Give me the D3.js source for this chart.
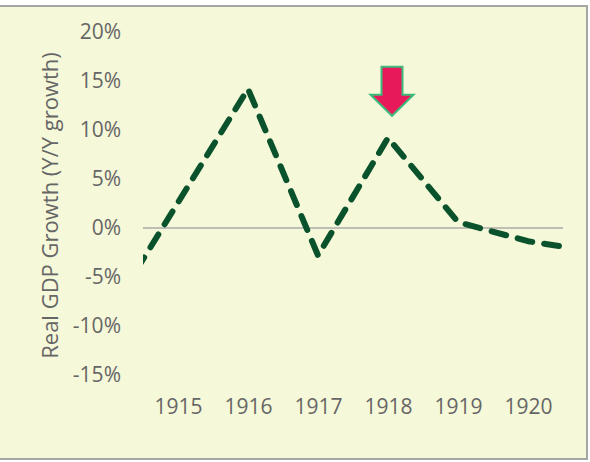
<!DOCTYPE html>
<html>
<head>
<meta charset="utf-8">
<script src="https://cdn.jsdelivr.net/npm/d3@7"></script>
<style>
  body { margin: 0; background: #fff; }
  svg { display: block; }
  .axis text { font-family: "Open Sans", sans-serif; font-size: 21px; fill: #666; }
</style>
</head>
<body>
<svg id="chart" width="590" height="462"></svg>
<script>
// years incl. one on each side, the line runs off the plot edges
const years = [1914, 1915, 1916, 1917, 1918, 1919, 1920, 1921];
const growth = [-9.0, 2.6, 14.2, -2.8, 9.2, 0.6, -1.35, -2.45];
const xTicks = [1915, 1916, 1917, 1918, 1919, 1920];
const yTicks = [-15, -10, -5, 0, 5, 10, 15, 20];
const arrowYear = 1918;

const W = 590, H = 462;
const plot = { left: 143, right: 563, top: 32, bottom: 375 };

const svg = d3.select("#chart");

svg.append("rect")
  .attr("x", -2).attr("y", 6)
  .attr("width", 589).attr("height", 453)
  .attr("fill", "#f5f8d9")
  .attr("stroke", "#a6a6a6")
  .attr("stroke-width", 2);

const x = d3.scaleLinear()
  .domain([1914.5, 1920.5])
  .range([plot.left, plot.right]);

const y = d3.scaleLinear()
  .domain([-15, 20])
  .range([plot.bottom, plot.top]);

const yAxis = d3.axisLeft(y)
  .tickValues(yTicks)
  .tickFormat((d) => d + "%")
  .tickSize(0)
  .tickPadding(22);

svg.append("g")
  .attr("class", "axis y-axis")
  .attr("transform", `translate(${plot.left},0)`)
  .call(yAxis)
  .call((g) => g.select(".domain").remove());

const xAxis = d3.axisBottom(x)
  .tickValues(xTicks)
  .tickFormat(d3.format("d"))
  .tickSize(0)
  .tickPadding(24);

svg.append("g")
  .attr("class", "axis x-axis")
  .attr("transform", `translate(0,${plot.bottom})`)
  .call(xAxis)
  .call((g) => g.select(".domain").remove());

svg.append("text")
  .attr("transform", `translate(58,${(plot.top + plot.bottom) / 2 + 2}) rotate(-90)`)
  .attr("text-anchor", "middle")
  .style("font-family", "Open Sans, sans-serif")
  .style("font-size", "22px")
  .style("fill", "#666")
  .text("Real GDP Growth (Y/Y growth)");

// zero line
svg.append("line")
  .attr("x1", plot.left).attr("x2", plot.right)
  .attr("y1", y(0)).attr("y2", y(0))
  .attr("stroke", "#ababab")
  .attr("stroke-width", 1.5);

svg.append("clipPath")
  .attr("id", "plot-clip")
  .append("rect")
  .attr("x", plot.left).attr("y", 0)
  .attr("width", plot.right - plot.left).attr("height", H);

const line = d3.line()
  .x((d, i) => x(years[i]))
  .y((d) => y(d));

svg.append("path")
  .datum(growth)
  .attr("clip-path", "url(#plot-clip)")
  .attr("d", line)
  .attr("fill", "none")
  .attr("stroke", "#0a522b")
  .attr("stroke-width", 6)
  .attr("stroke-linecap", "round")
  .attr("stroke-linejoin", "round")
  .attr("stroke-dasharray", "15 12");

// arrow pointing at 1918
const ax = x(arrowYear) + 4;
const tipY = y(growth[years.indexOf(arrowYear)]) - 22;
const arrow = [
  [ax - 10.5, tipY - 49],
  [ax + 10.5, tipY - 49],
  [ax + 10.5, tipY - 21],
  [ax + 21.5, tipY - 21],
  [ax, tipY],
  [ax - 21.5, tipY - 21],
  [ax - 10.5, tipY - 21],
];
svg.append("path")
  .attr("d", d3.line()(arrow) + "Z")
  .attr("fill", "#e8195a")
  .attr("stroke", "#3dbb7a")
  .attr("stroke-width", 2);
</script>
</body>
</html>
